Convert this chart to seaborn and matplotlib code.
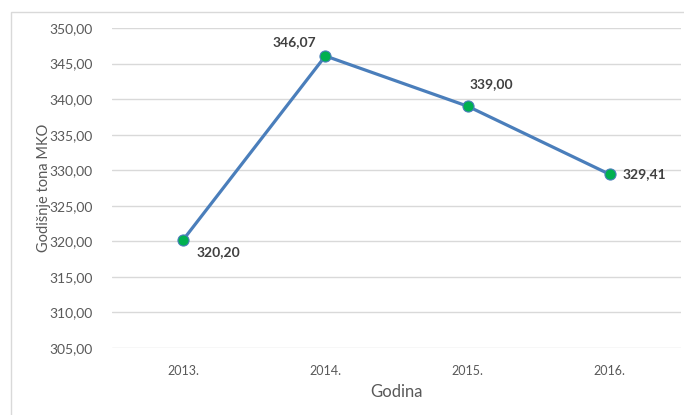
import pandas as pd
import seaborn as sns
import matplotlib.pyplot as plt
from matplotlib.patches import Rectangle

# Data
godine = ['2013.', '2014.', '2015.', '2016.']
tona = [320.20, 346.07, 339.00, 329.41]
y_ticks = [305, 310, 315, 320, 325, 330, 335, 340, 345, 350]

df = pd.DataFrame({'Godina': godine, 'tona': tona})

sns.set_style('white')
plt.rcParams['font.family'] = ['Lato', 'DejaVu Sans']

fig = plt.figure(figsize=(6.84, 4.15), dpi=100)
ax = fig.add_axes([112 / 684, 67 / 415, 569 / 684, 320 / 415])

# light frame round the whole chart area
fig.patches.append(Rectangle((11 / 684, -0.1), 1.2, 1.1 - 12 / 415,
                             transform=fig.transFigure, fill=False,
                             edgecolor='#d9d9d9', linewidth=1.0))

sns.lineplot(data=df, x='Godina', y='tona', ax=ax, color='#4a7ebb', linewidth=2.3,
             marker='o', markersize=8, markerfacecolor='#00b050',
             markeredgecolor='#4a7ebb', markeredgewidth=0.8, sort=False)

ax.set_xlim(-0.5, len(godine) - 0.5)
ax.set_ylim(305, 350)
ax.set_yticks(y_ticks)
ax.set_yticklabels([f'{v:.2f}'.replace('.', ',') for v in y_ticks])
ax.grid(axis='y', color='#d9d9d9', linewidth=1.0)
ax.set_axisbelow(True)
for s in ax.spines.values():
    s.set_visible(False)
ax.tick_params(axis='both', length=0, colors='#595959')
ax.tick_params(axis='y', labelsize=10, pad=14)
ax.tick_params(axis='x', labelsize=9, pad=12)

ax.set_xlabel('Godina', fontsize=12, color='#595959', labelpad=5)
ax.set_ylabel('Godišnje tona MKO', fontsize=10.5, color='#595959', labelpad=-1)

# data labels (offsets in points)
offsets = [(10, -9, 'left'), (-22, 10, 'center'), (17, 16, 'center'), (9, 0, 'left')]
for i, (v, (dx, dy, ha)) in enumerate(zip(tona, offsets)):
    ax.annotate(f'{v:.2f}'.replace('.', ','), (i, v), xytext=(dx, dy),
                textcoords='offset points', ha=ha,
                va='center', fontsize=10, fontweight='bold', color='#404040')

fig.savefig('out.png', dpi=100)
